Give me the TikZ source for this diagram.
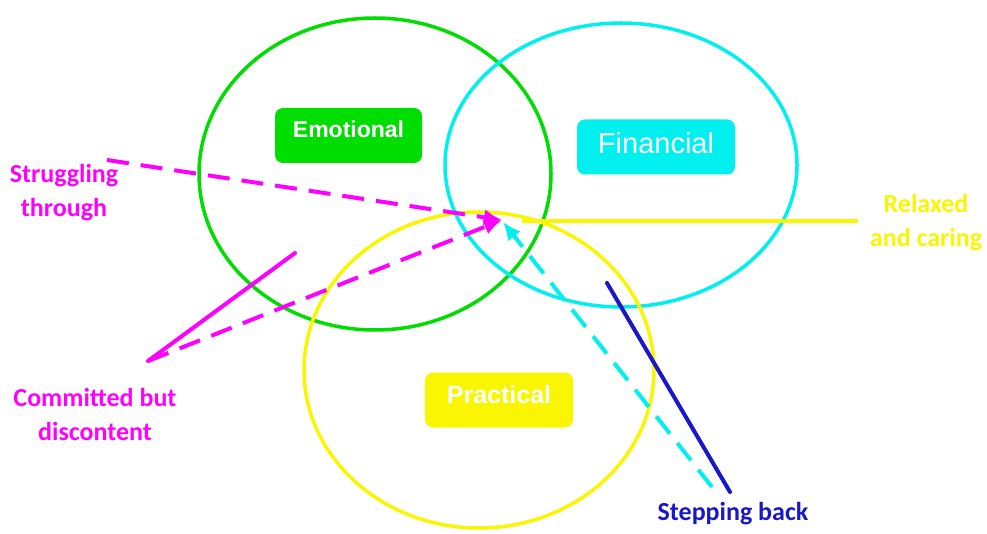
\documentclass[tikz,border=0pt]{standalone}
\usepackage{fontspec}
\setmainfont{Carlito}
\newfontfamily\boxfont{Liberation Sans}
\usetikzlibrary{arrows.meta}
\definecolor{cgreen}{HTML}{00DD00}
\definecolor{ccyan}{HTML}{00F0F0}
\definecolor{cyellow}{HTML}{FAF500}
\definecolor{cmag}{HTML}{FF00FF}
\definecolor{cblue}{HTML}{1818C8}
\tikzset{
  ring/.style={line width=3.5pt},
  catbox/.style={rounded corners=8pt, minimum height=55pt, inner sep=0pt, text depth=12pt, text=white, font=\boxfont\bfseries\fontsize{23}{26}\selectfont},
  lbl/.style={align=center, font=\bfseries\fontsize{26}{34}\selectfont, inner sep=0pt},
  dline/.style={line width=4pt, dash pattern=on 22pt off 12pt},
  sline/.style={line width=4pt, line cap=round},
  tip/.style={-{Latex[length=18pt,width=16pt]}}
}
\begin{document}
\begin{tikzpicture}[x=1pt,y=-1pt]
\useasboundingbox (0,0) rectangle (987,534);
% ellipses
\draw[ring, cgreen] (375,174) ellipse [x radius=176, y radius=156];
\draw[ring, ccyan] (621,165) ellipse [x radius=176, y radius=142];
\draw[ring, cyellow] (479,370) ellipse [x radius=175, y radius=158];
% category boxes
\node[catbox, fill=cgreen, minimum width=147pt] (emo) at (348.5,135.5) {Emotional};
\node[catbox, fill=ccyan, minimum width=158pt, text depth=8pt, font=\boxfont\fontsize{29}{32}\selectfont] (fin) at (656,147) {Financial};
\node[catbox, fill=cyellow, minimum width=148pt, font=\boxfont\bfseries\fontsize{25}{28}\selectfont] (pra) at (499,400) {Practical};
% labels
\node[lbl, text=cmag] (strug) at (64,193) {Struggling\\through};
\node[lbl, text=cmag] (comm) at (95,414) {Committed but\\discontent};
\node[lbl, text=cyellow] (relax) at (926,223) {Relaxed\\and caring};
\node[lbl, text=cblue] (step) at (733,514) {Stepping back};
% coordinates
\coordinate (tipm) at (502,220);
\coordinate (tipc) at (503,222);
\coordinate (s1) at (107,160);
\coordinate (c1) at (148,361);
\coordinate (c2) at (295,253);
\coordinate (r1) at (522,221);
\coordinate (r2) at (858,221);
\coordinate (k1) at (712,487);
\coordinate (b1) at (607,283);
\coordinate (b2) at (730,492);
% connectors
\draw[line width=4pt, cyellow] (r1) -- (r2);
\draw[sline, cmag] (c1) -- (c2);
\draw[dline, cmag, tip] (s1) -- (tipm);
\draw[dline, cmag, tip] (c1) -- (tipm);
\draw[dline, ccyan, tip] (k1) -- (tipc);
\draw[sline, cblue] (b1) -- (b2);
\end{tikzpicture}
\end{document}
